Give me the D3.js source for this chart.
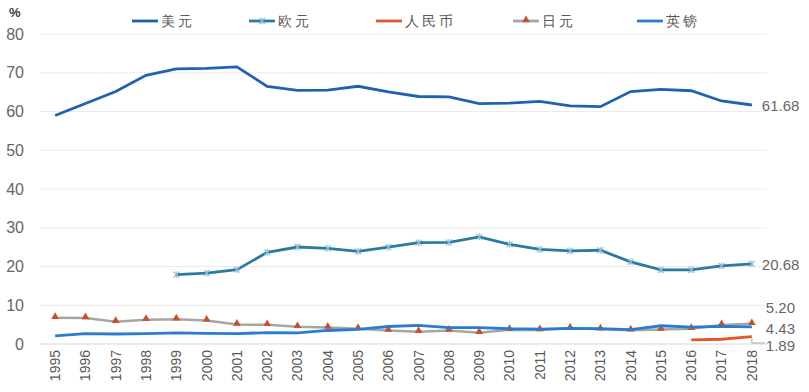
<!DOCTYPE html>
<html><head><meta charset="utf-8">
<script src="https://cdn.jsdelivr.net/npm/d3@7/dist/d3.min.js"></script>
<style>
body{margin:0;background:#fff;}
text{font-family:"Liberation Sans",Arial,sans-serif;}
</style></head>
<body><svg id="c" width="809" height="392"></svg>
<script>
const years = ["1995","1996","1997","1998","1999","2000","2001","2002","2003","2004","2005","2006","2007","2008","2009","2010","2011","2012","2013","2014","2015","2016","2017","2018"];
const usd = [58.96,62.05,65.15,69.32,71.01,71.13,71.51,66.50,65.45,65.51,66.51,65.04,63.87,63.77,62.05,62.14,62.59,61.47,61.24,65.14,65.73,65.36,62.72,61.68];
const eur = [null,null,null,null,17.90,18.29,19.18,23.65,25.03,24.68,23.89,24.99,26.14,26.21,27.66,25.71,24.40,24.05,24.19,21.20,19.14,19.14,20.17,20.68];
const cny = [null,null,null,null,null,null,null,null,null,null,null,null,null,null,null,null,null,null,null,null,null,1.08,1.23,1.89];
const jpy = [6.77,6.71,5.77,6.24,6.37,6.06,5.04,4.94,4.42,4.28,3.96,3.46,3.18,3.47,2.90,3.66,3.61,4.09,3.82,3.54,3.75,3.95,4.89,5.20];
const gbp = [2.11,2.69,2.58,2.66,2.89,2.75,2.70,2.92,2.86,3.49,3.75,4.52,4.82,4.22,4.25,3.93,3.83,4.04,3.98,3.70,4.71,4.34,4.54,4.43];
const yTicks = [0,10,20,30,40,50,60,70,80];
const seriesNames = ["美元","欧元","人民币","日元","英镑"];
const endLabels = ["61.68","20.68","1.89","5.20","4.43"];

const svg = d3.select("#c");
const pL = 40, pR = 767, pT = 34, pB = 344;
const x = d3.scaleBand().domain(years).range([pL, pR]);
const y = d3.scaleLinear().domain([0, 80]).range([pB, pT]);
const cx = d => x(d) + x.bandwidth()/2;

// gridlines
svg.append("g").selectAll("line").data(yTicks).join("line")
  .attr("x1", pL).attr("x2", pR)
  .attr("y1", d => y(d)).attr("y2", d => y(d))
  .attr("stroke", d => d === 0 ? "#d9d9d9" : "#ececec").attr("stroke-width", 1);

// y axis labels
const yAxis = d3.axisLeft(y).tickValues(yTicks).tickSize(0).tickPadding(0);
const ga = svg.append("g").attr("transform", `translate(${24},0)`).call(yAxis);
ga.select(".domain").remove();
ga.selectAll("text").attr("fill", "#666666").attr("font-size", 16).attr("font-family", "Liberation Sans, Arial, sans-serif");

// x axis labels
const xAxis = d3.axisBottom(x).tickSize(0).tickPadding(0);
const gx = svg.append("g").attr("transform", `translate(0,${pB})`).call(xAxis);
gx.select(".domain").remove();
gx.selectAll("text").attr("fill", "#595959").attr("font-size", 14)
  .attr("font-family", "Liberation Sans, Arial, sans-serif")
  .attr("transform", "rotate(-90)").attr("text-anchor", "end")
  .attr("x", -6).attr("y", 0).attr("dy", "0.35em");

// % label
svg.append("text").attr("x", 9).attr("y", 17).text("%").attr("fill", "#404040")
  .attr("font-size", 13).attr("font-weight", "bold");

const line = d3.line().defined(d => d[1] != null).x(d => cx(d[0])).y(d => y(d[1]));
const pairs = arr => years.map((yr, i) => [yr, arr[i]]);

const colors = {usd:"#1f63b0", eur:"#2b7ba0", cny:"#e2572b", jpy:"#a6a6a6", gbp:"#2a7cd0"};

// JPY
svg.append("path").datum(pairs(jpy)).attr("d", line).attr("fill","none")
  .attr("stroke", colors.jpy).attr("stroke-width", 2.5);
const tri = d3.symbol().type(d3.symbolTriangle).size(26);
svg.append("g").selectAll("path").data(pairs(jpy)).join("path")
  .attr("d", tri).attr("transform", d => `translate(${cx(d[0])},${y(d[1])-1})`)
  .attr("fill", "#c8502f");
// GBP
svg.append("path").datum(pairs(gbp)).attr("d", line).attr("fill","none")
  .attr("stroke", colors.gbp).attr("stroke-width", 2.8);
// CNY
svg.append("path").datum(pairs(cny)).attr("d", line).attr("fill","none")
  .attr("stroke", colors.cny).attr("stroke-width", 2.8);
// EUR
svg.append("path").datum(pairs(eur)).attr("d", line).attr("fill","none")
  .attr("stroke", colors.eur).attr("stroke-width", 2.8);
const star = "M-3,-3L3,3M-3,3L3,-3M0,-3.5L0,3.5";
svg.append("g").selectAll("path").data(pairs(eur).filter(d => d[1] != null)).join("path")
  .attr("d", star).attr("transform", d => `translate(${cx(d[0])},${y(d[1])})`)
  .attr("stroke", "#8cbcd9").attr("stroke-width", 1.1).attr("fill","none");
// USD
svg.append("path").datum(pairs(usd)).attr("d", line).attr("fill","none")
  .attr("stroke", colors.usd).attr("stroke-width", 2.8);

// end labels
const lx = cx("2018") + 10;
const endPos = [
  [endLabels[0], y(usd[23]) + 1],
  [endLabels[1], y(eur[23]) + 1],
  [endLabels[2], 346],
  [endLabels[3], 308],
  [endLabels[4], 329]
];
svg.append("g").selectAll("text").data(endPos).join("text")
  .attr("x", d => d[0] === "61.68" || d[0] === "20.68" ? lx : lx + 4)
  .attr("y", d => d[1]).attr("dy", "0.35em")
  .attr("fill", "#666666").attr("font-size", 15).text(d => d[0]);
// leader line for 1.89
svg.append("path").attr("d", `M${cx("2018")},${y(cny[23])+2}L${cx("2018")},${343}L${lx+3},${343}`)
  .attr("stroke", "#a6a6a6").attr("fill","none").attr("stroke-width", 1);

// legend
const legX = [132, 249, 376, 513, 637];
const legC = [colors.usd, colors.eur, colors.cny, colors.jpy, colors.gbp];
const lg = svg.append("g");
seriesNames.forEach((n, i) => {
  const g = lg.append("g").attr("transform", `translate(${legX[i]},21)`);
  g.append("line").attr("x1", 0).attr("x2", 26).attr("y1", 0).attr("y2", 0)
    .attr("stroke", legC[i]).attr("stroke-width", 2.8);
  if (i === 1) g.append("path").attr("d", star).attr("transform","translate(13,0)")
    .attr("stroke", "#8cbcd9").attr("stroke-width", 1.1);
  if (i === 3) g.append("path").attr("d", tri).attr("transform","translate(13,-1)").attr("fill","#c8502f");
  g.append("text").attr("x", 29).attr("y", 0).attr("dy", "0.36em")
    .attr("font-family", "Noto Sans CJK SC").attr("font-size", 14)
    .attr("font-weight", 300)
    .attr("letter-spacing", 3)
    .attr("fill", "#595959").text(n);
});
</script></body></html>
